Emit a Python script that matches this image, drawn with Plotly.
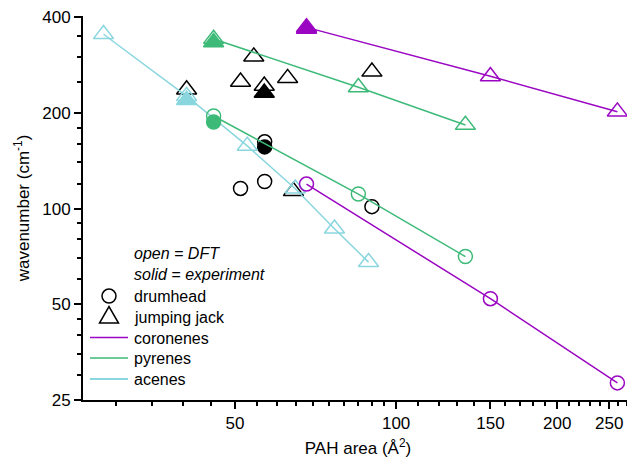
import math
import plotly.graph_objects as go

# ---- data ----
coronene_area = [68, 150, 259]
coronene_jj_dft = [372, 261, 202]
coronene_dh_dft = [119.5, 52.1, 28.3]
coronene_jj_exp_area = [68]
coronene_jj_exp = [368]

pyrene_area = [45.6, 85, 134.7]
pyrene_jj_dft = [342, 241, 183.4]
pyrene_dh_dft = [195.7, 111.2, 70.7]
pyrene_exp_area = [45.6]
pyrene_jj_exp = [334]
pyrene_dh_exp = [187.4]

acene_area = [28.4, 40.6, 52.7, 64.8, 76.7, 88.8]
acene_jj_dft = [354, 226, 157.6, 115.6, 86.5, 67.9]
acene_exp_area = [40.6]
acene_jj_exp = [219.7]

other_jj_dft_area = [40.6, 51.2, 54.2, 56.7, 62.7, 64.3, 90.1]
other_jj_dft = [237, 250.7, 301, 243.6, 257.5, 113.5, 269.8]
other_jj_exp_area = [56.7]
other_jj_exp = [231.6]
other_dh_dft_area = [51.2, 56.8, 56.8, 90.1]
other_dh_dft = [115.8, 121.8, 162.3, 101.5]
other_dh_exp_area = [56.8]
other_dh_exp = [156.5]

x_tickvals = [50, 100, 150, 200, 250]
y_tickvals = [25, 50, 100, 200, 400]
x_minor = [30, 35, 40, 45, 55, 60, 65, 70, 75, 80, 85, 90, 95,
           110, 120, 130, 140, 160, 170, 180, 190,
           210, 220, 230, 240, 260, 270]
y_minor = [30, 35, 40, 45, 60, 70, 80, 90, 120, 140, 160, 180, 250, 300, 350]

legend_labels = ["<i>open = DFT</i>", "<i>solid = experiment</i>", "drumhead",
                 "jumping jack", "coronenes", "pyrenes", "acenes"]

# ---- styles ----
PURPLE = "#9a06c1"
GREEN = "#3dba78"
CYAN = "#8ad6df"
BLACK = "#000000"
FONT = "Liberation Sans, Arial, sans-serif"
TRI = 17.5
CIR = 14
MLW = 1.5

# the page body has an 8px margin; size the figure so the plot lands where the
# reference has it (page pixels: plot area x 83..633, y ~15..400)
OFF = 8
W, H = 635 - OFF, 462 - OFF
Y_TOP = 404          # slightly above the 400 tick so its label is kept
PH_400 = 383         # pixels from 25 to 400
PH = PH_400 * math.log10(Y_TOP / 25) / math.log10(400 / 25)
PW = 550
ML = 83 - OFF
MT = (400 - OFF) - PH
MR = W - ML - PW
MB = H - MT - PH

fig = go.Figure()

def pts(x, y, symbol, color, size):
    fig.add_trace(go.Scatter(
        x=x, y=y, mode="markers", showlegend=False, hoverinfo="skip",
        marker=dict(symbol=symbol, size=size, color=color,
                    line=dict(color=color, width=MLW))))

def line_pts(x, y, symbol, color, size):
    fig.add_trace(go.Scatter(
        x=x, y=y, mode="lines+markers", showlegend=False, hoverinfo="skip",
        line=dict(color=color, width=1.5),
        marker=dict(symbol=symbol, size=size, color=color,
                    line=dict(color=color, width=MLW))))

# black (other PAHs), no lines
pts(other_jj_dft_area, other_jj_dft, "triangle-up-open", BLACK, TRI)
pts(other_jj_exp_area, other_jj_exp, "triangle-up", BLACK, TRI)
pts(other_dh_dft_area, other_dh_dft, "circle-open", BLACK, CIR)
pts(other_dh_exp_area, other_dh_exp, "circle", BLACK, CIR)

# acenes
line_pts(acene_area, acene_jj_dft, "triangle-up-open", CYAN, TRI)
pts(acene_exp_area, acene_jj_exp, "triangle-up", CYAN, TRI)

# pyrenes
line_pts(pyrene_area, pyrene_jj_dft, "triangle-up-open", GREEN, TRI)
line_pts(pyrene_area, pyrene_dh_dft, "circle-open", GREEN, CIR)
pts(pyrene_exp_area, pyrene_jj_exp, "triangle-up", GREEN, TRI)
pts(pyrene_exp_area, pyrene_dh_exp, "circle", GREEN, CIR)

# coronenes
line_pts(coronene_area, coronene_jj_dft, "triangle-up-open", PURPLE, TRI)
line_pts(coronene_area, coronene_dh_dft, "circle-open", PURPLE, CIR)
pts(coronene_jj_exp_area, coronene_jj_exp, "triangle-up", PURPLE, TRI)

# ---- hand-built legend (page pixel positions -> paper coords) ----
def px(x):
    return (x - OFF - ML) / PW

def py(y):
    return (MT + PH - (y - OFF)) / PH

LEG_TEXT_X = 133
LEG_SYM_X = 109
leg_y = [253, 274.5, 296, 317, 338, 358.5, 379.5]
annotations = []
for lab, yy in zip(legend_labels, leg_y):
    annotations.append(dict(x=px(LEG_TEXT_X), y=py(yy), xref="paper", yref="paper",
                            text=lab, showarrow=False, xanchor="left", yanchor="middle",
                            xshift=-1,
                            font=dict(size=16, family=FONT, color="black")))
shapes = []
shapes.append(dict(type="circle", xref="paper", yref="paper",
                   xsizemode="pixel", ysizemode="pixel",
                   xanchor=px(LEG_SYM_X), yanchor=py(leg_y[2]),
                   x0=-7, x1=7, y0=-7, y1=7,
                   line=dict(color=BLACK, width=MLW)))
shapes.append(dict(type="path", xref="paper", yref="paper",
                   xsizemode="pixel", ysizemode="pixel",
                   xanchor=px(LEG_SYM_X), yanchor=py(leg_y[3] + 0.5),
                   path="M -9.5,-5.5 L 9.5,-5.5 L 0,11 Z",
                   line=dict(color=BLACK, width=MLW)))
for col, yy in zip([PURPLE, GREEN, CYAN], leg_y[4:]):
    shapes.append(dict(type="line", xref="paper", yref="paper",
                       x0=px(90), x1=px(128), y0=py(yy - 0.5), y1=py(yy - 0.5),
                       line=dict(color=col, width=1.5 if col != CYAN else 2)))

fig.update_layout(
    width=W, height=H,
    margin=dict(l=ML, r=MR, t=MT, b=MB, autoexpand=False),
    paper_bgcolor="white", plot_bgcolor="white",
    font=dict(family=FONT, size=17, color="black"),
    showlegend=False,
    annotations=annotations,
    shapes=shapes,
    xaxis=dict(type="log", range=[math.log10(26), math.log10(277)],
               automargin=False,
               tickmode="array", tickvals=x_tickvals,
               ticktext=[str(v) for v in x_tickvals],
               showgrid=False, zeroline=False,
               showline=True, linecolor="black", linewidth=2,
               ticks="outside", ticklen=7, tickwidth=2, tickcolor="black",
               minor=dict(ticks="outside", ticklen=4, tickwidth=1.5, tickcolor="black",
                          tickmode="array", tickvals=x_minor),
               title=dict(text="PAH area (Å<sup>2</sup>)", standoff=10,
                          font=dict(size=17))),
    yaxis=dict(type="log", range=[math.log10(25), math.log10(Y_TOP)],
               automargin=False,
               tickmode="array", tickvals=y_tickvals,
               ticktext=[str(v) for v in y_tickvals],
               showgrid=False, zeroline=False,
               showline=True, linecolor="black", linewidth=2,
               ticks="outside", ticklen=7, tickwidth=2, tickcolor="black",
               minor=dict(ticks="outside", ticklen=4, tickwidth=1.5, tickcolor="black",
                          tickmode="array", tickvals=y_minor),
               title=dict(text="wavenumber (cm<sup>-1</sup>)", standoff=8,
                          font=dict(size=17))),
)

fig.write_html("out.html")
